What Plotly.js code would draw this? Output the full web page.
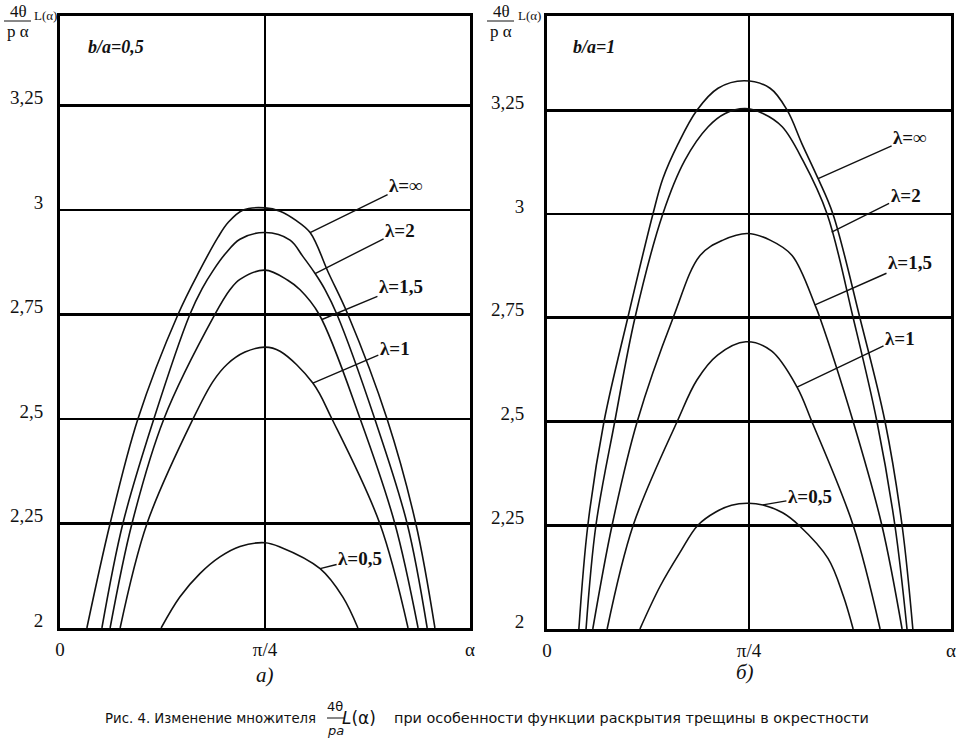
<!DOCTYPE html>
<html>
<head>
<meta charset="utf-8">
<script src="https://cdn.plot.ly/plotly-3.0.1.min.js"></script>
<style>
  html, body { margin: 0; padding: 0; background: #fff; }
  #chart { width: 961px; height: 739px; }
</style>
</head>
<body>
<div id="chart"></div>
<script>
// alpha in degrees (0 .. 90, pi/4 = 45), values of 4θ/(pα)·L(α)

// panel а), b/a = 0,5
var xInfA = [5.9, 11.0, 17.1, 25.9, 30.7, 34.7, 36.9, 40.2, 45, 48.3, 51.8, 54.9, 59.0, 63.2, 71.8, 78.1, 82.3];
var yInfA = [2.0, 2.25, 2.5, 2.75, 2.856, 2.935, 2.97, 3.0, 3.005, 2.997, 2.975, 2.946, 2.848, 2.75, 2.5, 2.25, 2.0];
var x2A = [9.2, 13.8, 20.6, 28.5, 31.2, 33.6, 36.2, 39.5, 45, 50.5, 53.3, 56.0, 58.2, 60.8, 69.1, 76.2, 80.6];
var y2A = [2.0, 2.25, 2.5, 2.75, 2.812, 2.855, 2.894, 2.93, 2.946, 2.928, 2.889, 2.848, 2.809, 2.75, 2.5, 2.25, 2.0];
var x15A = [11.0, 15.8, 22.8, 34.0, 37.3, 39.5, 45, 50.0, 52.7, 56.9, 65.9, 73.5, 78.6];
var y15A = [2.0, 2.25, 2.5, 2.75, 2.809, 2.834, 2.856, 2.832, 2.809, 2.75, 2.5, 2.25, 2.0];
var x1A = [13.2, 19.1, 29.2, 33.6, 36.7, 40.6, 45, 48.3, 55.5, 59.7, 70.2, 76.4];
var y1A = [2.0, 2.25, 2.5, 2.59, 2.631, 2.66, 2.672, 2.662, 2.586, 2.5, 2.25, 2.0];
var x05A = [22.2, 26.3, 30.7, 35.1, 39.5, 45, 48.3, 57.1, 62.1, 65.4];
var y05A = [2.0, 2.074, 2.13, 2.17, 2.195, 2.204, 2.194, 2.142, 2.074, 2.0];

// panel б), b/a = 1
var xInfB = [7.1, 9.1, 12.7, 18.0, 23.6, 25.8, 29.2, 33.4, 38.1, 43.9, 49.7, 53.5, 56.8, 60.4, 63.7, 69.7, 75.3, 79.1, 81.5];
var yInfB = [2.0, 2.25, 2.5, 2.75, 3.0, 3.085, 3.169, 3.25, 3.303, 3.321, 3.303, 3.25, 3.169, 3.085, 3.0, 2.75, 2.5, 2.25, 2.0];
var x2B = [8.7, 10.9, 15.1, 19.6, 25.8, 30.7, 35.9, 39.7, 44.1, 48.1, 52.4, 57.0, 62.4, 68.2, 73.5, 77.5, 80.2];
var y2B = [2.0, 2.25, 2.5, 2.75, 3.0, 3.129, 3.21, 3.242, 3.254, 3.242, 3.21, 3.129, 3.0, 2.75, 2.5, 2.25, 2.0];
var x15B = [10.2, 14.5, 20.1, 28.1, 34.1, 39.2, 44.6, 49.7, 54.6, 59.7, 60.8, 68.2, 74.6, 79.1];
var y15B = [2.0, 2.25, 2.5, 2.75, 2.9, 2.937, 2.953, 2.937, 2.9, 2.781, 2.75, 2.5, 2.25, 2.0];
var x1B = [13.4, 19.2, 29.0, 33.4, 38.0, 44.3, 50.0, 55.7, 59.0, 68.2, 74.2];
var y1B = [2.0, 2.25, 2.5, 2.6, 2.66, 2.692, 2.67, 2.583, 2.5, 2.25, 2.0];
var x05B = [20.7, 25.2, 29.6, 33.6, 37.6, 41.1, 44.6, 48.1, 52.5, 56.1, 62.6, 66.0, 68.2];
var y05B = [2.0, 2.103, 2.184, 2.25, 2.282, 2.298, 2.303, 2.299, 2.28, 2.25, 2.17, 2.08, 2.0];

var alphaTicks = [0, 45, 90];
var alphaText = ['0', 'π/4', 'α'];
var valTicks = [2, 2.25, 2.5, 2.75, 3, 3.25];
var valText = ['2', '2,25', '2,5', '2,75', '3', '3,25'];
var curveNames = ['λ=∞', 'λ=2', 'λ=1,5', 'λ=1', 'λ=0,5'];

var W = 961, H = 739;
function px(x) { return x / W; }
function py(y) { return 1 - y / H; }

var serif = '"Liberation Serif", "Times New Roman", serif';
var sans = '"DejaVu Sans", sans-serif';

function curve(x, y, xa, ya) {
    return {
        x: x, y: y, xaxis: xa, yaxis: ya,
        mode: 'lines', type: 'scatter', hoverinfo: 'skip',
        line: {color: '#111', width: 1.6, shape: 'spline', smoothing: 1}
    };
}

var traces = [
    curve(xInfA, yInfA, 'x', 'y'),
    curve(x2A, y2A, 'x', 'y'),
    curve(x15A, y15A, 'x', 'y'),
    curve(x1A, y1A, 'x', 'y'),
    curve(x05A, y05A, 'x', 'y'),
    curve(xInfB, yInfB, 'x2', 'y2'),
    curve(x2B, y2B, 'x2', 'y2'),
    curve(x15B, y15B, 'x2', 'y2'),
    curve(x1B, y1B, 'x2', 'y2'),
    curve(x05B, y05B, 'x2', 'y2')
];

function axisBase() {
    return {
        showline: true, mirror: true, linecolor: '#000', linewidth: 3,
        showgrid: true, gridcolor: '#000', gridwidth: 2.6, zeroline: false,
        ticks: '', fixedrange: true,
        tickfont: {family: serif, size: 19, color: '#111'}
    };
}

var xa = Object.assign(axisBase(), {domain: [px(60), px(470)], range: [0, 90], anchor: 'y',
    tickvals: alphaTicks, ticktext: alphaText, ticklabelstandoff: 2});
var ya = Object.assign(axisBase(), {domain: [1 - 628 / H, 1 - 16 / H], range: [2, 3.464], anchor: 'x',
    tickvals: valTicks, ticktext: valText, ticklabelstandoff: 10, ticklabelshift: -8});
var xb = Object.assign(axisBase(), {domain: [px(547), px(951)], range: [0, 90], anchor: 'y2',
    tickvals: alphaTicks, ticktext: alphaText, ticklabelstandoff: 2});
var yb = Object.assign(axisBase(), {domain: [1 - 629 / H, 1 - 16 / H], range: [2, 3.477], anchor: 'x2',
    tickvals: valTicks, ticktext: valText, ticklabelstandoff: 16, ticklabelshift: -8});

function tag(text, x, y, ax, ay, xr, yr) {
    return {
        text: '<b>' + text + '</b>', x: x, y: y, xref: xr, yref: yr, ax: ax, ay: ay,
        showarrow: true, arrowhead: 0, arrowwidth: 1.4, arrowcolor: '#111',
        font: {family: serif, size: 19, color: '#111'}
    };
}

function note(text, x, y, size, anchor, family) {
    return {
        text: text, x: px(x), y: py(y), xref: 'paper', yref: 'paper', showarrow: false,
        xanchor: anchor || 'center', yanchor: 'middle',
        font: {family: family || serif, size: size, color: '#111'}
    };
}

var annotations = [
    tag(curveNames[0], 54.9, 2.946, 96, -47, 'x', 'y'),
    tag(curveNames[1], 56.0, 2.848, 85, -43, 'x', 'y'),
    tag(curveNames[2], 57.5, 2.738, 79, -33, 'x', 'y'),
    tag(curveNames[3], 55.5, 2.586, 82, -35, 'x', 'y'),
    tag(curveNames[4], 57.1, 2.142, 40, -10, 'x', 'y'),
    tag(curveNames[0], 60.4, 3.085, 92, -41, 'x2', 'y2'),
    tag(curveNames[1], 63.4, 2.956, 74, -37, 'x2', 'y2'),
    tag(curveNames[2], 59.7, 2.781, 95, -42, 'x2', 'y2'),
    tag(curveNames[3], 55.7, 2.583, 103, -49, 'x2', 'y2'),
    tag(curveNames[4], 48.1, 2.299, 47, -8, 'x2', 'y2'),

    note('<b><i>b/a=0,5</i></b>', 116, 47, 18),
    note('<b><i>b/a=1</i></b>', 594, 47, 18),

    note('4θ', 18, 11, 17), note('p α', 18, 31, 17), note('L(α)', 45, 15, 13),
    note('4θ', 501, 11, 17), note('p α', 501, 31, 17), note('L(α)', 529, 15, 13),

    note('<i>а)</i>', 265, 675, 21),
    note('<i>б)</i>', 745, 672, 21),

    note('Рис. 4. Изменение множителя', 318, 718, 13.3, 'right', sans),
    note('4θ', 335, 706, 13, 'center', sans),
    note('<i>pa</i>', 335, 730, 13, 'center', sans),
    note('<i>L</i>(α)', 359, 718, 17, 'center', sans),
    note('при особенности функции раскрытия трещины в окрестности', 871, 718, 14.4, 'right', sans)
];

function bar(x0, x1, y) {
    return {type: 'line', xref: 'paper', yref: 'paper', x0: px(x0), x1: px(x1), y0: py(y), y1: py(y),
        line: {color: '#111', width: 1}};
}

var layout = {
    width: W, height: H,
    margin: {l: 0, r: 0, t: 0, b: 0},
    paper_bgcolor: '#fff', plot_bgcolor: '#fff',
    font: {family: serif, color: '#111'},
    showlegend: false,
    xaxis: xa, yaxis: ya, xaxis2: xb, yaxis2: yb,
    annotations: annotations,
    shapes: [bar(4, 31, 21), bar(487, 514, 21), bar(327, 344, 718)]
};

Plotly.newPlot('chart', traces, layout, {displayModeBar: false, staticPlot: true});
</script>
</body>
</html>
